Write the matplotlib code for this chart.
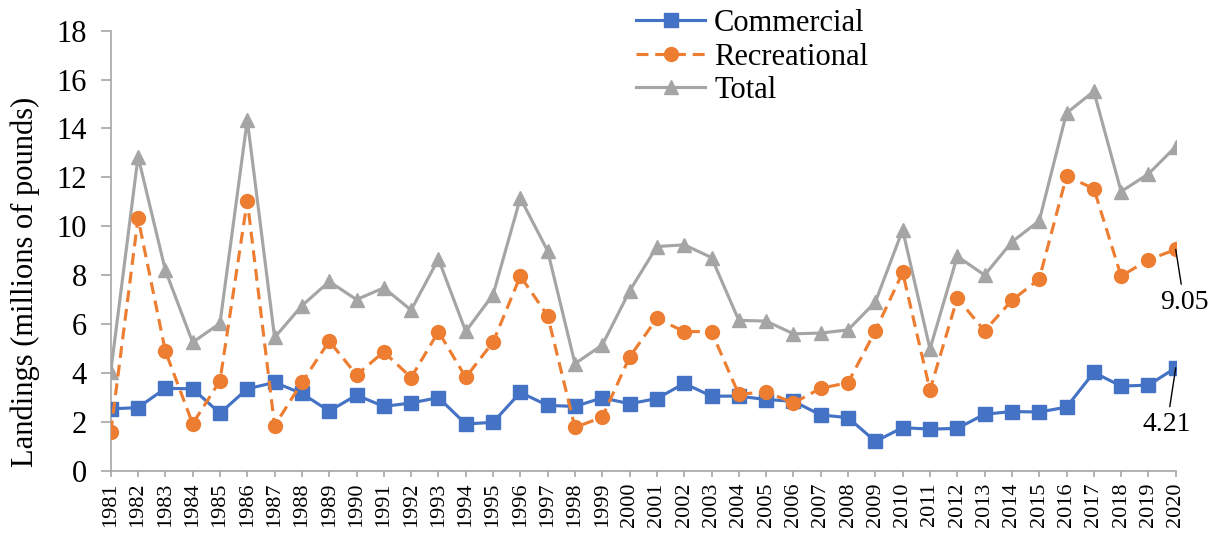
import numpy as np
import matplotlib
matplotlib.use("Agg")
import matplotlib.pyplot as plt

plt.rcParams['font.family'] = ['Liberation Serif', 'DejaVu Serif']

years = list(range(1981, 2021))
commercial = [2.53, 2.58, 3.37, 3.35, 2.35, 3.35, 3.61, 3.16, 2.44, 3.09,
              2.63, 2.77, 2.99, 1.91, 1.98, 3.20, 2.67, 2.63, 2.98, 2.74,
              2.95, 3.57, 3.05, 3.05, 2.91, 2.84, 2.28, 2.17, 1.20, 1.76,
              1.70, 1.73, 2.31, 2.42, 2.40, 2.60, 4.02, 3.46, 3.50, 4.21]
recreational = [1.57, 10.33, 4.89, 1.92, 3.68, 11.05, 1.84, 3.61, 5.30, 3.92,
                4.86, 3.81, 5.69, 3.82, 5.26, 7.96, 6.34, 1.77, 2.19, 4.65,
                6.23, 5.69, 5.69, 3.12, 3.23, 2.77, 3.37, 3.60, 5.72, 8.11,
                3.30, 7.06, 5.72, 6.97, 7.84, 12.05, 11.54, 7.96, 8.63, 9.05]
total = [4.05, 12.85, 8.20, 5.25, 6.03, 14.35, 5.45, 6.75, 7.74, 7.00,
         7.48, 6.57, 8.66, 5.70, 7.20, 11.15, 8.99, 4.38, 5.14, 7.35,
         9.17, 9.24, 8.72, 6.15, 6.12, 5.60, 5.63, 5.76, 6.90, 9.85,
         4.98, 8.77, 8.00, 9.36, 10.22, 14.63, 15.52, 11.42, 12.14, 13.26]

blue = '#4472C4'
orange = '#ED7D31'
grey = '#A5A5A5'
axis_col = '#A6A6A6'

fig = plt.figure(figsize=(12.17, 5.33), dpi=100)
ax = fig.add_axes([0.0910, 0.1169, 0.9661 - 0.0910, 0.9424 - 0.1169])

ax.plot(years, commercial, color=blue, lw=2.25, marker='s', ms=10,
        label='Commercial', zorder=3)
ax.plot(years, recreational, color=orange, lw=2.25, marker='o', ms=10,
        dashes=(3.8, 2.2), label='Recreational', zorder=3)
ax.plot(years, total, color=grey, lw=2.25, marker='^', ms=10,
        label='Total', zorder=2)

ax.set_xlim(1981, 2020)
ax.set_ylim(0, 18)
ax.set_yticks(np.arange(0, 19, 2))
ax.set_xticks(years)
ax.set_xticklabels([str(y) for y in years], rotation=90, fontsize=16)
ax.tick_params(axis='y', labelsize=22, length=7.2, width=1.2,
               color=axis_col, pad=10)
ax.tick_params(axis='x', length=4.3, width=1.2, color=axis_col, pad=4)

for s in ['top', 'right']:
    ax.spines[s].set_visible(False)
for s in ['left', 'bottom']:
    ax.spines[s].set_color(axis_col)
    ax.spines[s].set_linewidth(1.2)

fig.text(25 / 1217, 1 - 282 / 533, 'Landings (millions of pounds)',
         rotation=90, ha='center', va='center', fontsize=22)

# data labels for the last year
ax.annotate('9.05', xy=(2020, recreational[-1]), xytext=(6, -38),
            textcoords='offset points', ha='center', va='center', fontsize=20,
            arrowprops=dict(arrowstyle='-', color='black', lw=1,
                            shrinkA=2, shrinkB=0))
ax.annotate('4.21', xy=(2020, commercial[-1]), xytext=(-6.3, -41),
            textcoords='offset points', ha='center', va='center', fontsize=20,
            arrowprops=dict(arrowstyle='-', color='black', lw=1,
                            shrinkA=2, shrinkB=0))

fig.legend(loc='upper left', bbox_to_anchor=(636 / 1217, 1 - 9 / 533),
           frameon=False, fontsize=22, borderpad=0, borderaxespad=0,
           handlelength=2.26, handletextpad=0.3, labelspacing=0.15)

fig.savefig('out.png', dpi=100)
